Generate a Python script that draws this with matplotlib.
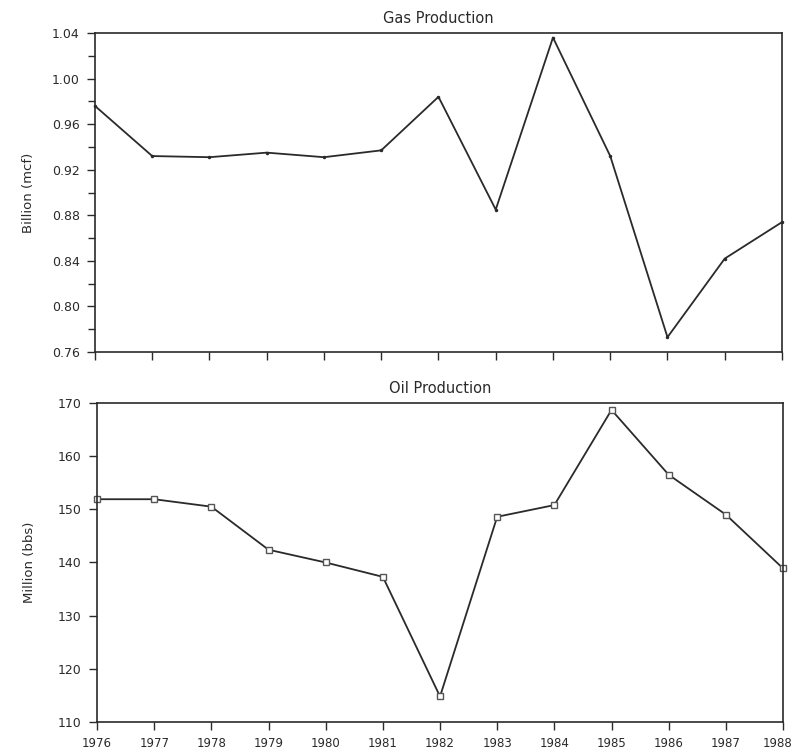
import matplotlib
matplotlib.use("Agg")
import matplotlib.pyplot as plt
import matplotlib.transforms as mtransforms
from matplotlib.ticker import MultipleLocator

years = [1976, 1977, 1978, 1979, 1980, 1981, 1982, 1983, 1984, 1985, 1986, 1987, 1988]
gas = [0.976, 0.932, 0.931, 0.935, 0.931, 0.937, 0.984, 0.885, 1.036, 0.932, 0.773, 0.842, 0.874]
oil = [151.9, 151.9, 150.5, 142.4, 140.0, 137.3, 114.8, 148.6, 150.8, 168.7, 156.5, 149.0, 138.9]
gas_ticks = [0.76, 0.80, 0.84, 0.88, 0.92, 0.96, 1.00, 1.04]
oil_ticks = [110, 120, 130, 140, 150, 160, 170]

INK = "#2a2a2a"
plt.rcParams["font.family"] = "DejaVu Sans"

fig = plt.figure(figsize=(7.96, 7.52), dpi=100)
fig.patch.set_facecolor("white")

ax1 = fig.add_axes([0.1193, 0.5319, 0.8631, 0.4242])
ax2 = fig.add_axes([0.1219, 0.0399, 0.8618, 0.4242])

# Gas panel
ax1.plot(years, gas, color=INK, lw=1.3, marker="o", ms=1.5, clip_on=False)
ax1.set_xlim(1976, 1988)
ax1.set_ylim(0.76, 1.04)
ax1.set_yticks(gas_ticks)
ax1.set_yticklabels([f"{t:.2f}" for t in gas_ticks])
ax1.yaxis.set_minor_locator(MultipleLocator(0.02))
ax1.set_xticks(years)
ax1.set_xticklabels([])
ax1.set_ylabel("Billion (mcf)", fontsize=9.5, color=INK, labelpad=12)
ax1.set_title("Gas Production", fontsize=10.5, color=INK, pad=7)

# Oil panel
ax2.plot(years, oil, color=INK, lw=1.3, marker="s", ms=5, mfc="white",
         mec="#555555", mew=1.0, clip_on=False)
ax2.set_xlim(1976, 1988)
ax2.set_ylim(110, 170)
ax2.set_yticks(oil_ticks)
ax2.set_xticks(years)
ax2.set_xticklabels([str(y) for y in years])
ax2.set_ylabel("Million (bbs)", fontsize=9.5, color=INK, labelpad=16)
ax2.set_title("Oil Production", fontsize=10.5, color=INK, pad=7)

for ax in (ax1, ax2):
    for s in ax.spines.values():
        s.set_color(INK)
        s.set_linewidth(1.2)
    ax.tick_params(axis="both", which="major", direction="out", length=6,
                   width=1.0, color=INK, labelcolor=INK, labelsize=9, pad=5)
    ax.tick_params(axis="y", which="minor", direction="out", length=5,
                   width=1.0, color=INK)
ax2.tick_params(axis="x", labelsize=8.5)

# keep the last year label inside the canvas
last = ax2.get_xticklabels()[-1]
last.set_transform(last.get_transform() + mtransforms.ScaledTranslation(-5 / 100, 0, fig.dpi_scale_trans))

plt.savefig("out.png", dpi=100, facecolor="white")
plt.close()
